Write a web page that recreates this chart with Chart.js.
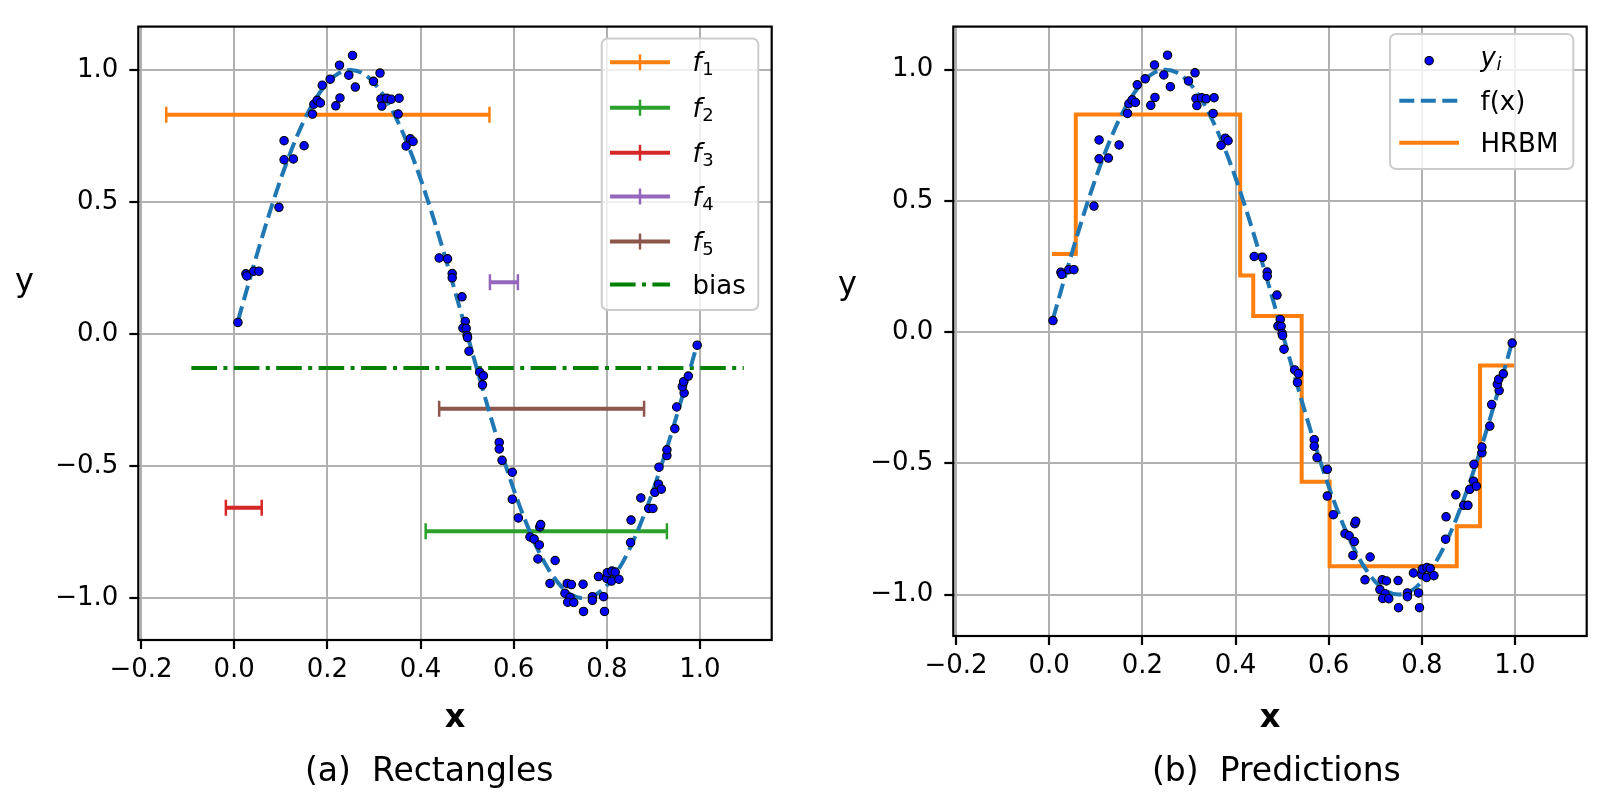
<!DOCTYPE html>
<html>
<head>
<meta charset="utf-8">
<script src="https://cdn.jsdelivr.net/npm/chart.js@4.4.1/dist/chart.umd.min.js"></script>
<style>
  html, body { margin: 0; padding: 0; background: #fff; }
  #page { position: relative; width: 1616px; height: 812px; overflow: hidden; font-family: "DejaVu Sans", sans-serif; }
  canvas { position: absolute; top: 0; }
  .txt { position: absolute; line-height: 1; white-space: pre; color: #000; }
</style>
</head>
<body>
<div id="page">
  <canvas id="rectChart" width="800" height="812" style="left:0"></canvas>
  <canvas id="predChart" width="816" height="812" style="left:800px"></canvas>
  <div class="txt" style="left:15px;top:264px;font-size:32px">y</div>
  <div class="txt" style="left:838px;top:267px;font-size:32px">y</div>
  <div class="txt" style="left:305px;top:753px;font-size:33px">(a)  Rectangles</div>
  <div class="txt" style="left:1152px;top:753px;font-size:33px">(b)  Predictions</div>
</div>
<script>
// noisy samples y_i
const pointX = [0.008, 0.025, 0.027, 0.042, 0.053, 0.096, 0.107, 0.107, 0.127, 0.150,
  0.168, 0.171, 0.178, 0.185, 0.189, 0.206, 0.218, 0.227, 0.226, 0.246,
  0.254, 0.260, 0.299, 0.313, 0.315, 0.317, 0.327, 0.337, 0.354, 0.352,
  0.369, 0.378, 0.384, 0.440, 0.458, 0.468, 0.468, 0.489, 0.496, 0.491,
  0.498, 0.500, 0.501, 0.504, 0.527, 0.535, 0.533, 0.569, 0.569, 0.575,
  0.597, 0.597, 0.610, 0.635, 0.644, 0.655, 0.656, 0.658, 0.652, 0.689,
  0.678, 0.715, 0.724, 0.710, 0.721, 0.716, 0.729, 0.749, 0.750, 0.769,
  0.769, 0.793, 0.795, 0.782, 0.800, 0.801, 0.811, 0.818, 0.810, 0.826,
  0.851, 0.852, 0.873, 0.890, 0.899, 0.903, 0.911, 0.917, 0.912, 0.929,
  0.929, 0.946, 0.950, 0.966, 0.962, 0.965, 0.975, 0.994];
const pointY = [0.044, 0.228, 0.220, 0.238, 0.238, 0.480, 0.732, 0.660, 0.663, 0.713,
  0.833, 0.870, 0.885, 0.875, 0.942, 0.965, 0.864, 0.894, 1.018, 0.980,
  1.055, 0.935, 0.957, 0.988, 0.890, 0.863, 0.893, 0.889, 0.893, 0.833,
  0.712, 0.739, 0.729, 0.288, 0.285, 0.229, 0.213, 0.141, 0.048, 0.023,
  0.022, -0.005, -0.013, -0.065, -0.144, -0.158, -0.192, -0.410, -0.435, -0.478,
  -0.523, -0.625, -0.696, -0.768, -0.776, -0.798, -0.730, -0.721, -0.851, -0.857,
  -0.944, -0.944, -0.948, -0.981, -0.997, -1.015, -1.016, -0.947, -1.050, -0.994,
  -1.008, -0.994, -1.050, -0.918, -0.925, -0.903, -0.897, -0.901, -0.935, -0.928,
  -0.789, -0.704, -0.620, -0.660, -0.660, -0.599, -0.568, -0.587, -0.504, -0.460,
  -0.438, -0.358, -0.276, -0.223, -0.199, -0.180, -0.159, -0.042];

// true function f(x) (spans the sample range)
const curveX = [0.008, 0.025, 0.05, 0.075, 0.1, 0.125, 0.15, 0.175, 0.2, 0.225,
  0.25, 0.275, 0.3, 0.325, 0.35, 0.375, 0.4, 0.425, 0.45, 0.475,
  0.5, 0.525, 0.55, 0.575, 0.6, 0.625, 0.65, 0.675, 0.7, 0.725,
  0.75, 0.775, 0.8, 0.825, 0.85, 0.875, 0.9, 0.925, 0.95, 0.975, 0.994];
const curveY = [0.050, 0.156, 0.309, 0.454, 0.588, 0.707, 0.809, 0.891, 0.951, 0.988,
  1.0, 0.988, 0.951, 0.891, 0.809, 0.707, 0.588, 0.454, 0.309, 0.156,
  0, -0.156, -0.309, -0.454, -0.588, -0.707, -0.809, -0.891, -0.951, -0.988,
  -1.0, -0.988, -0.951, -0.891, -0.809, -0.707, -0.588, -0.454, -0.309, -0.156, -0.038];

// rectangles f1..f5 (x extent and height) and the bias
const rectLabels = ['f_1', 'f_2', 'f_3', 'f_4', 'f_5'];
const rectStart = [-0.146, 0.411, -0.018, 0.549, 0.440];
const rectEnd = [0.548, 0.929, 0.059, 0.609, 0.880];
const rectHeight = [0.830, -0.746, -0.657, 0.196, -0.283];
const biasSpan = [-0.092, 1.094];
const biasValue = -0.128;

// HRBM prediction (step, value held until next x)
const stepX = [0.006, 0.057, 0.410, 0.438, 0.542, 0.602, 0.875, 0.925, 0.998];
const stepY = [0.298, 0.829, 0.216, 0.061, -0.570, -0.892, -0.740, -0.127, -0.127];

const xTicks = [-0.2, 0.0, 0.2, 0.4, 0.6, 0.8, 1.0];
const yTicks = [-1.0, -0.5, 0.0, 0.5, 1.0];

const rectColors = ['#ff7f0e', '#2ca02c', '#d62728', '#9467bd', '#8c564b'];
const FONT = '"DejaVu Sans"';
Chart.defaults.font.family = FONT;

const xy = (xs, ys) => xs.map((x, i) => ({ x: x, y: ys[i] }));
const fmt = v => (v < 0 ? '\u2212' : '') + Math.abs(v).toFixed(1);

function axes(yWidth, xHeight) {
  const grid = { color: '#b0b0b0', lineWidth: 2, tickColor: '#000', tickLength: 9, tickWidth: 2.2 };
  return {
    x: {
      type: 'linear', min: -0.206, max: 1.154,
      afterBuildTicks: s => { s.ticks = xTicks.map(v => ({ value: v })); },
      afterFit: s => { s.height = xHeight; },
      grid: grid, border: { display: false },
      ticks: { callback: fmt, color: '#000', font: { size: 26 }, padding: 6, autoSkip: false, maxRotation: 0 },
      title: { display: true, text: 'x', color: '#000', font: { size: 32, weight: 'bold' }, padding: { top: 0, bottom: 74 } }
    },
    y: {
      type: 'linear', min: -1.158, max: 1.164,
      afterBuildTicks: s => { s.ticks = yTicks.map(v => ({ value: v })); },
      afterFit: s => { s.width = yWidth; },
      grid: grid, border: { display: false },
      ticks: { callback: fmt, color: '#000', font: { size: 26 }, padding: 11, autoSkip: false }
    }
  };
}

function drawLabel(ctx, label, x, y) {
  const parts = label.split('_');
  if (parts.length === 1) {
    ctx.font = '26px ' + FONT;
    ctx.fillText(label, x, y + 9.3);
    return;
  }
  const base = parts[0] === 'y' ? y + 5 : y + 9;
  ctx.font = 'italic 26px ' + FONT;
  ctx.fillText(parts[0], x, base);
  const w = ctx.measureText(parts[0]).width;
  ctx.font = (/\d/.test(parts[1]) ? '' : 'italic ') + '18px ' + FONT;
  ctx.fillText(parts[1], x + w + 0.5, base + 4);
}

// axes frame + boxed legend inside the plot
function framePlugin(spec) {
  return {
    id: 'frameLegend',
    afterDraw(chart) {
      const ctx = chart.ctx, a = chart.chartArea;
      ctx.save();
      ctx.strokeStyle = '#000';
      ctx.lineWidth = 2.2;
      ctx.strokeRect(a.left, a.top, a.right - a.left, a.bottom - a.top);

      const b = spec.box;
      ctx.beginPath();
      ctx.roundRect(b[0], b[1], b[2], b[3], 6);
      ctx.fillStyle = 'rgba(255,255,255,0.8)';
      ctx.fill();
      ctx.strokeStyle = '#cccccc';
      ctx.lineWidth = 2;
      ctx.stroke();

      const items = chart.data.datasets.filter(d => d.inLegend);
      items.forEach((d, i) => {
        const y = spec.rows[i], x0 = spec.handle[0], x1 = spec.handle[1], xm = (x0 + x1) / 2;
        if (d.type === 'scatter') {
          ctx.beginPath();
          ctx.arc(xm, y, d.pointRadius, 0, Math.PI * 2);
          ctx.fillStyle = d.pointBackgroundColor;
          ctx.fill();
          ctx.lineWidth = d.pointBorderWidth;
          ctx.strokeStyle = d.pointBorderColor;
          ctx.stroke();
        } else {
          ctx.beginPath();
          ctx.setLineDash(d.borderDash || []);
          ctx.moveTo(x0, y);
          ctx.lineTo(x1, y);
          ctx.strokeStyle = d.borderColor;
          ctx.lineWidth = d.borderWidth;
          ctx.stroke();
          ctx.setLineDash([]);
          if (d.pointStyle === 'line') {
            ctx.beginPath();
            ctx.moveTo(xm, y - d.pointRadius);
            ctx.lineTo(xm, y + d.pointRadius);
            ctx.lineWidth = d.pointBorderWidth;
            ctx.stroke();
          }
        }
        ctx.fillStyle = '#000';
        drawLabel(ctx, d.label, spec.textX, y);
      });
      ctx.restore();
    }
  };
}

const pointsSet = () => ({
  type: 'scatter', label: 'y_i', data: xy(pointX, pointY),
  pointRadius: 4.2, pointBackgroundColor: '#0000ff', pointBorderColor: '#000', pointBorderWidth: 1.1
});
const curveSet = () => ({
  type: 'line', label: 'f(x)', data: xy(curveX, curveY),
  borderColor: '#1f77b4', borderWidth: 4, borderDash: [15, 6.5],
  cubicInterpolationMode: 'monotone', pointRadius: 0
});

// (a) Rectangles
const rectSets = rectLabels.map((lab, i) => ({
  type: 'line', label: lab, inLegend: true,
  data: [{ x: rectStart[i], y: rectHeight[i] }, { x: rectEnd[i], y: rectHeight[i] }],
  borderColor: rectColors[i], borderWidth: 4,
  pointStyle: 'line', pointRotation: 90, pointRadius: 8,
  pointBorderColor: rectColors[i], pointBorderWidth: 2.5
}));

new Chart(document.getElementById('rectChart'), {
  type: 'scatter',
  data: {
    datasets: [pointsSet(), curveSet()].concat(rectSets, [{
      type: 'line', label: 'bias', inLegend: true,
      data: [{ x: biasSpan[0], y: biasValue }, { x: biasSpan[1], y: biasValue }],
      borderColor: '#008000', borderWidth: 4, borderDash: [25.6, 6.4, 4, 6.4], pointRadius: 0
    }])
  },
  options: {
    responsive: false, animation: false, events: [],
    layout: { padding: { left: 0, top: 24, right: 28.3, bottom: 0 } },
    scales: axes(138.3, 172),
    plugins: { legend: { display: false }, tooltip: { enabled: false } }
  },
  plugins: [framePlugin({
    box: [601.7, 38.5, 156.6, 271.5],
    rows: [62.3, 107.7, 152.7, 196.5, 241.5, 284.5],
    handle: [610, 670], textX: 692.5
  })]
});

// (b) Predictions
const predPoints = pointsSet();
predPoints.inLegend = true;
const predCurve = curveSet();
predCurve.inLegend = true;

new Chart(document.getElementById('predChart'), {
  type: 'scatter',
  data: {
    datasets: [predPoints, predCurve, {
      type: 'line', label: 'HRBM', inLegend: true, data: xy(stepX, stepY),
      stepped: 'before', borderColor: '#ff7f0e', borderWidth: 4, pointRadius: 0
    }]
  },
  options: {
    responsive: false, animation: false, events: [],
    layout: { padding: { left: 0, top: 20, right: 29.3, bottom: 0 } },
    scales: axes(153.3, 176),
    plugins: { legend: { display: false }, tooltip: { enabled: false } }
  },
  plugins: [framePlugin({
    box: [590, 34, 183.3, 135],
    rows: [60.7, 100.7, 142.7],
    handle: [599.3, 659], textX: 680.5
  })]
});
</script>
</body>
</html>
